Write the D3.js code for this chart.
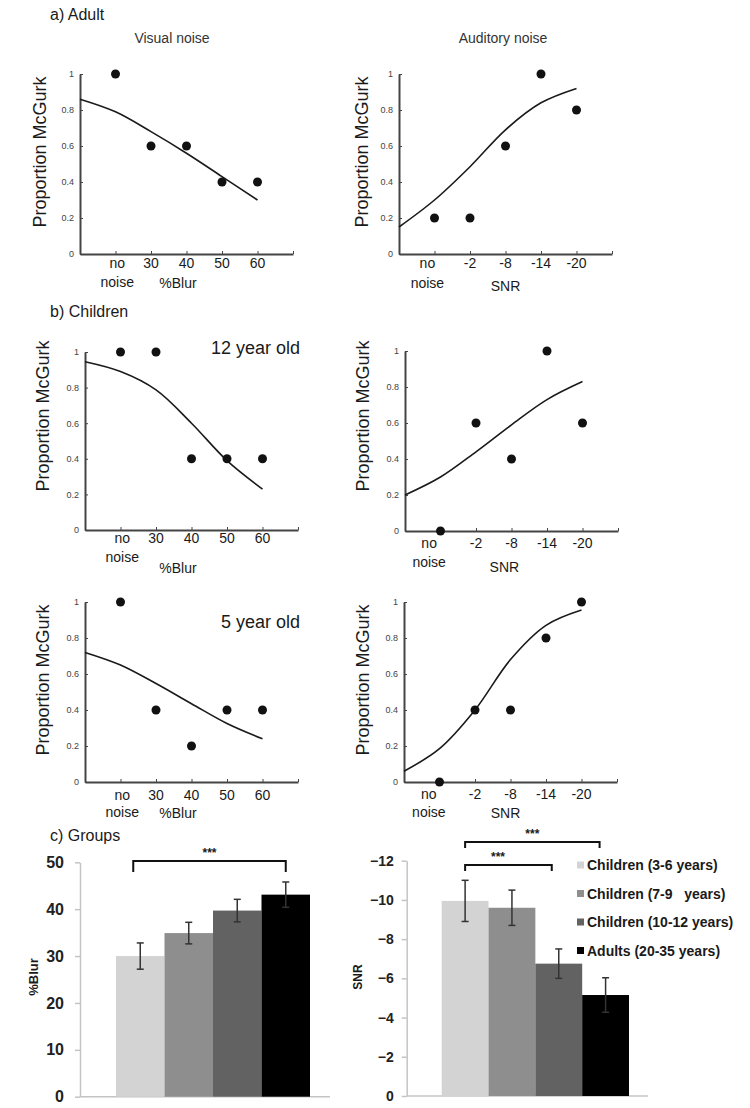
<!DOCTYPE html>
<html>
<head>
<meta charset="utf-8">
<script src="https://cdn.jsdelivr.net/npm/d3@7"></script>
<style>
  html, body { margin: 0; padding: 0; background: #fff; }
  svg { display: block; }
  text { font-family: "Liberation Sans", Arial, sans-serif; }
</style>
</head>
<body>
<svg id="chart" width="750" height="1108"></svg>
<script>
// ---------------- DATA ----------------
const blurCategories = ["no noise", "30", "40", "50", "60"];
const snrCategories = ["no noise", "-2", "-8", "-14", "-20"];
const proportionTicks = [0, 0.2, 0.4, 0.6, 0.8, 1];
const fitPositions = [0, 1, 2, 3, 4, 5];

const adultVisual = [1.0, 0.6, 0.6, 0.4, 0.4];
const adultAuditory = [0.2, 0.2, 0.6, 1.0, 0.8];
const child12Visual = [1.0, 1.0, 0.4, 0.4, 0.4];
const child12Auditory = [0.0, 0.6, 0.4, 1.0, 0.6];
const child5Visual = [1.0, 0.4, 0.2, 0.4, 0.4];
const child5Auditory = [0.0, 0.4, 0.4, 0.8, 1.0];

const adultVisualFit = [0.86, 0.79, 0.68, 0.56, 0.43, 0.30];
const adultAuditoryFit = [0.15, 0.30, 0.485, 0.69, 0.84, 0.92];
const child12VisualFit = [0.945, 0.89, 0.787, 0.60, 0.39, 0.23];
const child12AuditoryFit = [0.20, 0.30, 0.44, 0.59, 0.73, 0.83];
const child5VisualFit = [0.72, 0.65, 0.547, 0.435, 0.325, 0.24];
const child5AuditoryFit = [0.06, 0.185, 0.40, 0.68, 0.87, 0.955];

const groups = ["Children (3-6 years)", "Children (7-9   years)", "Children (10-12 years)", "Adults (20-35 years)"];
const blurMeans = [30.0, 34.9, 39.7, 43.1];
const blurErrors = [2.8, 2.3, 2.4, 2.7];
const snrMeans = [-9.95, -9.6, -6.75, -5.15];
const snrErrors = [1.05, 0.9, 0.75, 0.88];
const blurTicks = [0, 10, 20, 30, 40, 50];
const snrTicks = [0, -2, -4, -6, -8, -10, -12];

// ---------------- STYLE ----------------
const groupColors = ["#d3d3d3", "#8e8e8e", "#626262", "#000000"];
const svg = d3.select("#chart");
const ink = "#1a1a1a";

// section labels
svg.append("text").attr("x", 50).attr("y", 20).attr("font-size", 16).attr("fill", ink).text("a) Adult");
svg.append("text").attr("x", 50).attr("y", 317).attr("font-size", 16).attr("fill", ink).text("b) Children");
svg.append("text").attr("x", 50).attr("y", 841).attr("font-size", 16).attr("fill", ink).text("c) Groups");
svg.append("text").attr("x", 172).attr("y", 43).attr("text-anchor", "middle").attr("font-size", 14).attr("fill", "#333").text("Visual noise");
svg.append("text").attr("x", 503).attr("y", 43).attr("text-anchor", "middle").attr("font-size", 14).attr("fill", "#333").text("Auditory noise");

// ---------------- SCATTER PANELS ----------------
const panels = [
  { x0: 80,  yTop: 74,  yBot: 254, cats: blurCategories, pts: adultVisual,    fit: adultVisualFit,    title: "%Blur", titlePos: 2.76, noPos: 1.05, labelX: 40,  labelY: 152, tickDy: 14, noiseDy: 33, titleDy: 34 },
  { x0: 399, yTop: 74,  yBot: 254, cats: snrCategories,  pts: adultAuditory,  fit: adultAuditoryFit,  title: "SNR",   titlePos: 3.0,  noPos: 0.8,  labelX: 362, labelY: 152, tickDy: 14, noiseDy: 34, titleDy: 37 },
  { x0: 85,  yTop: 352, yBot: 530, cats: blurCategories, pts: child12Visual,  fit: child12VisualFit,  title: "%Blur", titlePos: 2.62, noPos: 1.05, labelX: 43,  labelY: 416, tickDy: 13, noiseDy: 32, titleDy: 43, note: "12 year old", noteY: 354 },
  { x0: 405, yTop: 351, yBot: 531, cats: snrCategories,  pts: child12Auditory,fit: child12AuditoryFit,title: "SNR",   titlePos: 2.8,  noPos: 0.68, labelX: 363, labelY: 416, tickDy: 17, noiseDy: 36, titleDy: 41 },
  { x0: 85,  yTop: 602, yBot: 782, cats: blurCategories, pts: child5Visual,   fit: child5VisualFit,   title: "%Blur", titlePos: 2.62, noPos: 1.05, labelX: 43,  labelY: 680, tickDy: 18, noiseDy: 35, titleDy: 36, note: "5 year old", noteY: 628 },
  { x0: 404, yTop: 602, yBot: 782, cats: snrCategories,  pts: child5Auditory, fit: child5AuditoryFit, title: "SNR",   titlePos: 2.86, noPos: 0.7,  labelX: 363, labelY: 680, tickDy: 17, noiseDy: 35, titleDy: 36 }
];

panels.forEach(p => {
  const g = svg.append("g");
  const x = d3.scaleLinear().domain([0, 6]).range([p.x0, p.x0 + 213]);
  const y = d3.scaleLinear().domain([0, 1]).range([p.yBot, p.yTop]);

  // y axis
  const ya = g.append("g").attr("transform", `translate(${p.x0},0)`)
    .call(d3.axisLeft(y).tickValues(proportionTicks).tickSizeInner(-3).tickSizeOuter(0).tickPadding(6)
      .tickFormat(d => (d === 0 || d === 1) ? String(d) : d.toFixed(1)));
  ya.select(".domain").attr("stroke", "#444").attr("stroke-width", 2);
  ya.selectAll(".tick line").attr("stroke", "#444").attr("stroke-width", 1);
  ya.selectAll(".tick text").attr("font-size", 9).attr("fill", "#444").attr("font-family", "Liberation Sans, Arial, sans-serif");

  // x axis
  const xa = g.append("g").attr("transform", `translate(0,${p.yBot})`)
    .call(d3.axisBottom(x).tickValues([1, 2, 3, 4, 5, 6]).tickSizeInner(-3).tickSizeOuter(0).tickFormat(""));
  xa.select(".domain").attr("stroke", "#444").attr("stroke-width", 2);
  xa.selectAll(".tick line").attr("stroke", "#444").attr("stroke-width", 1);

  // x tick labels
  p.cats.forEach((c, i) => {
    if (c === "no noise") {
      g.append("text").attr("x", x(p.noPos)).attr("y", p.yBot + p.tickDy).attr("text-anchor", "middle")
        .attr("font-size", 14).attr("fill", ink).text("no");
      g.append("text").attr("x", x(p.noPos)).attr("y", p.yBot + p.noiseDy).attr("text-anchor", "middle")
        .attr("font-size", 14).attr("fill", ink).text("noise");
    } else {
      g.append("text").attr("x", x(i + 1)).attr("y", p.yBot + p.tickDy).attr("text-anchor", "middle")
        .attr("font-size", 14).attr("fill", ink).text(c);
    }
  });
  g.append("text").attr("x", x(p.titlePos)).attr("y", p.yBot + p.titleDy).attr("text-anchor", "middle")
    .attr("font-size", 14).attr("fill", ink).text(p.title);

  // y label
  g.append("text").attr("transform", `translate(${p.labelX},${p.labelY}) rotate(-90)`)
    .attr("text-anchor", "middle").attr("dominant-baseline", "central")
    .attr("font-size", 18).attr("fill", ink).text("Proportion McGurk");

  // fit curve
  const line = d3.line().x((d, i) => x(fitPositions[i])).y(d => y(d)).curve(d3.curveCatmullRom);
  g.append("path").datum(p.fit).attr("d", line).attr("fill", "none").attr("stroke", ink).attr("stroke-width", 1.6);

  // dots
  g.selectAll("circle").data(p.pts).join("circle")
    .attr("cx", (d, i) => x(i + 1)).attr("cy", d => y(d)).attr("r", 4.5).attr("fill", "#111");

  if (p.note) {
    g.append("text").attr("x", 300).attr("y", p.noteY).attr("text-anchor", "end")
      .attr("font-size", 18).attr("fill", ink).text(p.note);
  }
});

// ---------------- BAR CHARTS ----------------
function barChart(opts) {
  const g = svg.append("g");
  const y = d3.scaleLinear().domain(opts.domain).range([opts.yBot, opts.yTop]);
  const x = d3.scaleBand().domain(groups).range([opts.barL, opts.barR]).padding(0);

  const ya = g.append("g").attr("transform", `translate(${opts.axisX},0)`)
    .call(d3.axisLeft(y).tickValues(opts.ticks).tickSizeInner(5).tickSizeOuter(0).tickPadding(opts.tickPad));
  ya.select(".domain").attr("stroke", "#c4c4c4").attr("stroke-width", 1.5);
  ya.selectAll(".tick line").attr("stroke", "#c4c4c4").attr("stroke-width", 1.5);
  ya.selectAll(".tick text").attr("font-size", opts.tickFont).attr("font-weight", "bold").attr("fill", "#222")
    .attr("font-family", "Liberation Sans, Arial, sans-serif");

  g.append("line").attr("x1", opts.axisX).attr("x2", opts.axisEnd).attr("y1", y(0)).attr("y2", y(0))
    .attr("stroke", "#c4c4c4").attr("stroke-width", 1.5);

  g.selectAll("rect.bar").data(opts.means).join("rect").attr("class", "bar")
    .attr("x", (d, i) => x(groups[i])).attr("width", x.bandwidth())
    .attr("y", d => Math.min(y(d), y(0))).attr("height", d => Math.abs(y(0) - y(d)))
    .attr("fill", (d, i) => groupColors[i]);

  opts.means.forEach((m, i) => {
    const cx = x(groups[i]) + x.bandwidth() / 2;
    const e = opts.errors[i];
    const y1 = y(m - e), y2 = y(m + e);
    g.append("line").attr("x1", cx).attr("x2", cx).attr("y1", y1).attr("y2", y2).attr("stroke", "#333").attr("stroke-width", 1.5);
    [y1, y2].forEach(yy => g.append("line").attr("x1", cx - 3.5).attr("x2", cx + 3.5).attr("y1", yy).attr("y2", yy)
      .attr("stroke", "#333").attr("stroke-width", 1.5));
  });

  g.append("text").attr("transform", `translate(${opts.labelX},${opts.labelY}) rotate(-90)`)
    .attr("text-anchor", "middle").attr("dominant-baseline", "central")
    .attr("font-size", opts.labelFont).attr("font-weight", "bold").attr("fill", ink).text(opts.label);

  opts.brackets.forEach(b => {
    const xa = x(groups[b.from]) + x.bandwidth() / 2 + b.dx1;
    const xb = x(groups[b.to]) + x.bandwidth() / 2 + b.dx2;
    g.append("path").attr("d", `M${xa},${b.y + b.leg}V${b.y}H${xb}V${b.y + b.leg}`)
      .attr("fill", "none").attr("stroke", "#111").attr("stroke-width", 2);
    g.append("text").attr("x", b.tx !== undefined ? b.tx : (xa + xb) / 2).attr("y", b.y - 4).attr("text-anchor", "middle")
      .attr("font-size", 12).attr("font-weight", "bold").attr("fill", ink).text("***");
  });
  return { x, y };
}

barChart({
  domain: [0, 50], yBot: 1096.7, yTop: 862.3, barL: 116, barR: 310, axisX: 80, axisEnd: 330,
  ticks: blurTicks, tickFont: 16, tickPad: 11, means: blurMeans, errors: blurErrors,
  label: "%Blur", labelX: 33, labelY: 977, labelFont: 13,
  brackets: [{ from: 0, to: 3, y: 861, leg: 11, dx1: -7, dx2: 0 }]
});

barChart({
  domain: [0, -12], yBot: 1096, yTop: 860.7, barL: 441.7, barR: 629, axisX: 406.7, axisEnd: 648,
  ticks: snrTicks, tickFont: 14, tickPad: 8, means: snrMeans, errors: snrErrors,
  label: "SNR", labelX: 358, labelY: 977, labelFont: 12,
  brackets: [
    { from: 0, to: 3, y: 842, leg: 6, dx1: 0, dx2: -6 },
    { from: 0, to: 2, y: 865, leg: 6, dx1: 0, dx2: -7, tx: 498 }
  ]
});

// legend
const legend = svg.append("g");
groups.forEach((name, i) => {
  const yy = 865 + i * 28.5;
  legend.append("rect").attr("x", 577).attr("y", yy - 3.5).attr("width", 7).attr("height", 7).attr("fill", groupColors[i]);
  legend.append("text").attr("x", 587).attr("y", yy).attr("dominant-baseline", "central")
    .attr("font-family", "Lato, sans-serif").attr("font-weight", "bold").attr("font-size", 14).attr("fill", ink)
    .attr("xml:space", "preserve").style("white-space", "pre").text(name);
});
</script>
</body>
</html>
